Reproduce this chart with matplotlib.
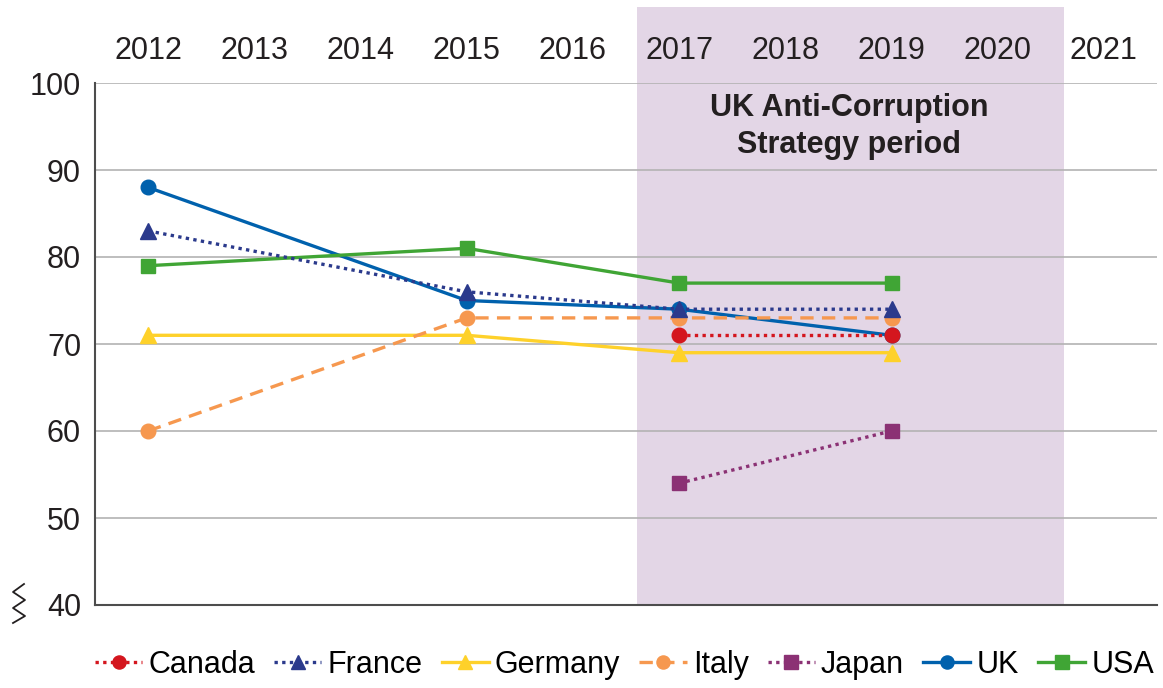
import matplotlib.pyplot as plt
import matplotlib.patches as mpatches

plt.rcParams['font.family'] = ['Liberation Sans', 'DejaVu Sans']

years = [2012, 2013, 2014, 2015, 2016, 2017, 2018, 2019, 2020, 2021]

canada_x = [2017, 2019]
canada = [71, 71]
france_x = [2012, 2015, 2017, 2019]
france = [83, 76, 74, 74]
germany_x = [2012, 2015, 2017, 2019]
germany = [71, 71, 69, 69]
italy_x = [2012, 2015, 2017, 2019]
italy = [60, 73, 73, 73]
japan_x = [2017, 2019]
japan = [54, 60]
uk_x = [2012, 2015, 2017, 2019]
uk = [88, 75, 74, 71]
usa_x = [2012, 2015, 2017, 2019]
usa = [79, 81, 77, 77]

strategy_start, strategy_end = 2016.6, 2020.62

fig = plt.figure(figsize=(11.63, 6.88), dpi=100)
ax = fig.add_axes([95 / 1163, 1 - 605 / 688, (1157 - 95) / 1163, (605 - 83) / 688])

ax.set_xlim(2011.5, 2021.5)
ax.set_ylim(40, 100)

# shaded period, stretched up past the top axis labels
shade = mpatches.Rectangle((strategy_start, 0), strategy_end - strategy_start, 1 + 76 / 522,
                           transform=ax.get_xaxis_transform(), facecolor='#e3d6e6',
                           edgecolor='none', clip_on=False, zorder=0)
ax.add_patch(shade)

ax.set_yticks([40, 50, 60, 70, 80, 90, 100])
ax.yaxis.grid(True, color='#b3b3b3', linewidth=1.2, zorder=1)
ax.set_axisbelow(True)

ms = 10.5
lw = 2.4
ax.plot(uk_x, uk, color='#0061ad', marker='o', ms=ms, lw=lw, label='UK', zorder=4)
ax.plot(usa_x, usa, color='#40a535', marker='s', ms=ms, lw=lw, label='USA', zorder=4)
ax.plot(germany_x, germany, color='#fed12a', marker='^', ms=ms + 1, lw=lw, label='Germany', zorder=4)
ax.plot(italy_x, italy, color='#f6984f', marker='o', ms=ms, lw=lw, ls=(0, (4, 2.5)), label='Italy', zorder=4)
ax.plot(france_x, france, color='#2b3a8c', marker='^', ms=ms + 1, lw=lw, ls=(0, (1, 1.3)), label='France', zorder=5)
ax.plot(japan_x, japan, color='#8b3174', marker='s', ms=ms, lw=lw, ls=(0, (1, 1.3)), label='Japan', zorder=5)
ax.plot(canada_x, canada, color='#d4161e', marker='o', ms=ms, lw=lw, ls=(0, (1, 1.3)), label='Canada', zorder=6)

ax.text(2018.6, 95, 'UK Anti-Corruption\nStrategy period', ha='center', va='center',
        fontsize=22, fontweight='bold', color='#231f20', linespacing=1.3)

ax.set_xticks(years)
ax.xaxis.tick_top()
ax.tick_params(axis='x', length=0, pad=12, labelsize=22, colors='#231f20')
ax.tick_params(axis='y', length=0, pad=10, labelsize=22, colors='#231f20')

for s in ['top', 'right']:
    ax.spines[s].set_visible(False)
for s in ['left', 'bottom']:
    ax.spines[s].set_color('#4d4d4d')
    ax.spines[s].set_linewidth(1.5)

# axis break zigzag
zx = [24, 13, 25, 13, 25, 13]
zy = [584, 592, 600, 608, 616, 623]
fig.lines.append(plt.Line2D([x / 1163 for x in zx], [1 - y / 688 for y in zy],
                            transform=fig.transFigure, color='#231f20', lw=1.3))

handles, labels = ax.get_legend_handles_labels()
order = ['Canada', 'France', 'Germany', 'Italy', 'Japan', 'UK', 'USA']
hmap = dict(zip(labels, handles))
fig.legend([hmap[k] for k in order], order, loc='center', bbox_to_anchor=(0.537, 1 - 665 / 688),
           ncol=7, frameon=False, fontsize=22, handlelength=1.55, handletextpad=0.2,
           columnspacing=0.62, markerscale=0.9, borderpad=0.1)

fig.savefig('out.png', dpi=100)
